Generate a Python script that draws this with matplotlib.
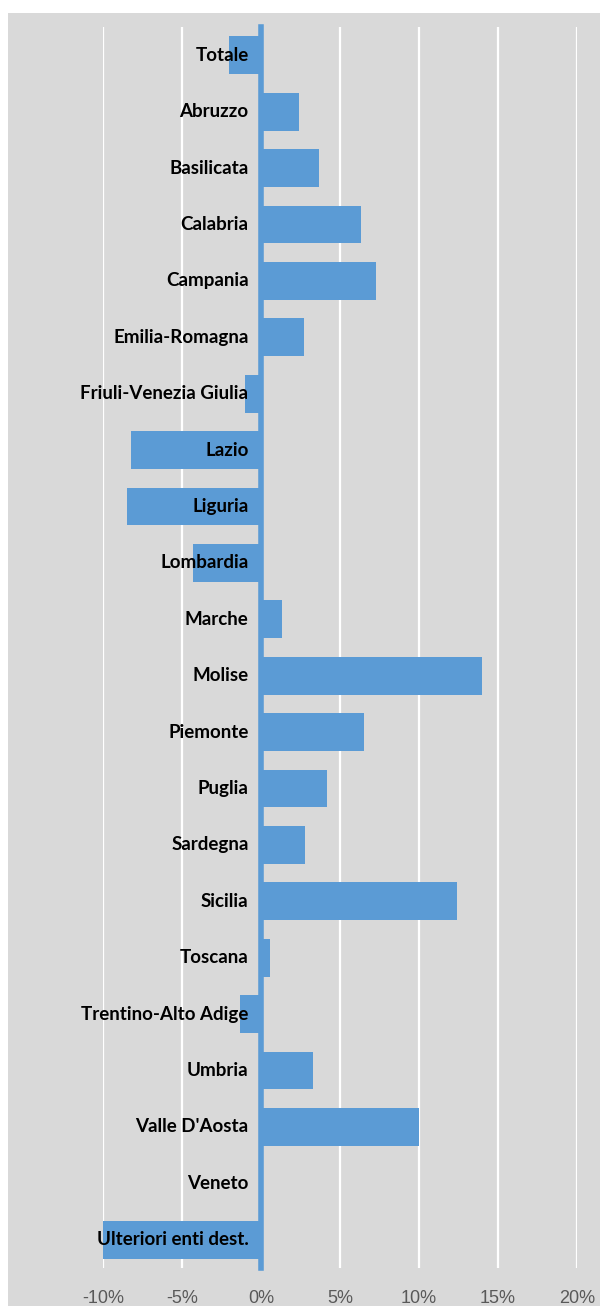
import matplotlib.pyplot as plt
from matplotlib.patches import Rectangle
from matplotlib.ticker import FuncFormatter

# regioni e variazione percentuale
regioni = ['Totale', 'Abruzzo', 'Basilicata', 'Calabria', 'Campania', 'Emilia-Romagna',
           'Friuli-Venezia Giulia', 'Lazio', 'Liguria', 'Lombardia', 'Marche', 'Molise',
           'Piemonte', 'Puglia', 'Sardegna', 'Sicilia', 'Toscana', 'Trentino-Alto Adige',
           'Umbria', "Valle D'Aosta", 'Veneto', 'Ulteriori enti dest.']
variazione = [-2.0, 2.4, 3.7, 6.3, 7.3, 2.7, -1.0, -8.2, -8.5, -4.3, 1.3, 14.0,
              6.5, 4.2, 2.8, 12.4, 0.6, -1.3, 3.3, 10.0, 0.0, -10.0]
xticks = [-10, -5, 0, 5, 10, 15, 20]

blu = '#5B9BD5'
grigio = '#D9D9D9'

fig = plt.figure(figsize=(6.02, 13.06), dpi=100)
fig.patch.set_facecolor('white')
# sfondo grigio del grafico
fig.patches.append(Rectangle((8 / 602, 0), 592 / 602, 1 - 13 / 1306,
                             transform=fig.transFigure, facecolor=grigio,
                             edgecolor='none', zorder=-1))

ax = fig.add_axes([103 / 602, 1 - 1268 / 1306, 474 / 602, 1241 / 1306])
ax.set_facecolor('none')

pos = list(range(len(regioni)))
ax.barh(pos, variazione, height=0.67, color=blu, zorder=2)

ax.set_xlim(-10, 20)
ax.set_ylim(len(regioni) - 0.5, -0.5)
ax.set_xticks(xticks)
ax.xaxis.set_major_formatter(FuncFormatter(lambda v, p: f'{v:.0f}%'))
ax.grid(axis='x', color='white', linewidth=1.6, zorder=1)
ax.set_axisbelow(True)

for s in ['top', 'right', 'bottom']:
    ax.spines[s].set_visible(False)
ax.spines['left'].set_position(('data', 0))
ax.spines['left'].set_color(blu)
ax.spines['left'].set_linewidth(4)
ax.spines['left'].set_zorder(3)

# etichette delle regioni sopra le barre, accanto all'asse
ax.set_yticks(pos)
ax.set_yticklabels([])
ax.tick_params(axis='y', length=0)
for p, nome in zip(pos, regioni):
    ax.annotate(nome, xy=(0, p), xytext=(-9, 0), textcoords='offset points',
                ha='right', va='center', fontsize=13.5, fontweight='bold',
                family=['Lato', 'DejaVu Sans'], color='black', zorder=5,
                annotation_clip=False)

ax.tick_params(axis='x', length=0, pad=16, labelsize=13, labelcolor='#595959')
for t in ax.get_xticklabels():
    t.set_family(['Liberation Sans Narrow', 'Liberation Sans', 'DejaVu Sans'])

fig.savefig('out.png', dpi=100)
